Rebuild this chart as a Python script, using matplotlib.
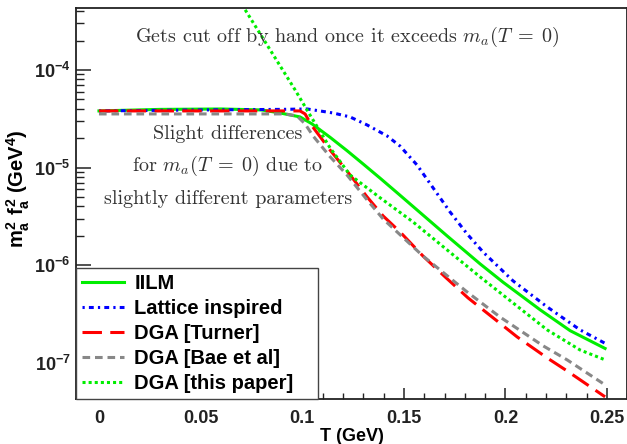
"""m_a^2 f_a^2 vs temperature for several axion mass models."""
import math

import matplotlib
matplotlib.use("Agg")
import matplotlib.pyplot as plt
from matplotlib.ticker import FixedLocator, MultipleLocator, FuncFormatter, NullFormatter, LogLocator

plt.rcParams["font.family"] = ["Liberation Sans", "DejaVu Sans"]
plt.rcParams["mathtext.fontset"] = "custom"
plt.rcParams["mathtext.rm"] = "Liberation Sans:bold"
plt.rcParams["mathtext.it"] = "Liberation Sans:bold"
plt.rcParams["mathtext.bf"] = "Liberation Sans:bold"
plt.rcParams["lines.scale_dashes"] = False

# IILM
T_iilm = [0.0, 0.03, 0.06, 0.08, 0.0891, 0.0989, 0.1048, 0.1137, 0.122, 0.1299,
          0.1383, 0.1471, 0.1545, 0.1713, 0.1875, 0.1988, 0.217, 0.2318, 0.249]
y_iilm = [3.80e-5, 3.94e-5, 3.98e-5, 3.89e-5, 3.62e-5, 3.30e-5, 2.80e-5, 2.04e-5,
          1.49e-5, 1.09e-5, 7.78e-6, 5.42e-6, 3.99e-6, 1.99e-6, 1.03e-6, 6.68e-7,
          3.49e-7, 2.13e-7, 1.40e-7]

# Lattice inspired
T_lat = [0.0, 0.0497, 0.0891, 0.1024, 0.1152, 0.1235, 0.1319, 0.1417, 0.1481, 0.1565,
         0.1644, 0.1727, 0.1811, 0.189, 0.2037, 0.2205, 0.2367, 0.249]
y_lat = [3.80e-5, 3.89e-5, 3.94e-5, 3.98e-5, 3.62e-5, 3.30e-5, 2.73e-5, 2.11e-5,
         1.66e-5, 1.06e-5, 6.18e-6, 3.51e-6, 2.09e-6, 1.36e-6, 6.9e-7, 3.73e-7,
         2.17e-7, 1.58e-7]

# DGA [Turner]
T_turner = [0.0, 0.0989, 0.1014, 0.1048, 0.1137, 0.122, 0.1319, 0.1398, 0.1481, 0.1594,
            0.1703, 0.1816, 0.2057, 0.2205, 0.2303, 0.249]
y_turner = [3.80e-5, 3.80e-5, 3.54e-5, 2.67e-5, 1.51e-5, 9.22e-6, 5.00e-6, 3.19e-6,
            2.19e-6, 1.24e-6, 7.57e-7, 4.61e-7, 1.84e-7, 1.12e-7, 8.24e-8, 4.47e-8]

# DGA [Bae et al]
T_bae = [0.0, 0.0915, 0.0974, 0.1014, 0.1053, 0.1137, 0.122, 0.1319, 0.1398, 0.1594,
         0.1811, 0.1973, 0.2185, 0.2303, 0.249]
y_bae = [3.54e-5, 3.54e-5, 3.38e-5, 2.80e-5, 2.11e-5, 1.29e-5, 8.4e-6, 4.66e-6,
         2.97e-6, 1.24e-6, 5.31e-7, 2.94e-7, 1.49e-7, 1.07e-7, 5.93e-8]

# DGA [this paper]
T_this = [0.065, 0.0714, 0.0965, 0.1038, 0.1137, 0.1235, 0.1383, 0.1545, 0.1713,
          0.1875, 0.2037, 0.2205, 0.2367, 0.249]
y_this = [8.0e-4, 4.3e-4, 6.24e-5, 3.46e-5, 1.59e-5, 8.4e-6, 4.9e-6, 2.77e-6,
          1.43e-6, 7.57e-7, 4.10e-7, 2.17e-7, 1.35e-7, 1.07e-7]

x_ticks = [0.0, 0.05, 0.1, 0.15, 0.2, 0.25]
x_ticklabels = ["0", "0.05", "0.1", "0.15", "0.2", "0.25"]

fig = plt.figure(figsize=(6.27, 4.44), dpi=100)
ax = fig.add_axes([0.1212, 0.1014, 0.8795, 0.8806])

lw = 2.2
ax.plot(T_iilm, y_iilm, color="#00ee00", lw=lw, label="IILM")
ax.plot(T_lat, y_lat, color="#0000ff", lw=lw, dashes=(1.6, 3.0, 3.5, 3.0),
        label="Lattice inspired")
ax.plot(T_turner, y_turner, color="#ff0000", lw=lw, dashes=(14, 6),
        label="DGA [Turner]")
ax.plot(T_bae, y_bae, color="#888888", lw=lw, dashes=(5.5, 3.5),
        label="DGA [Bae et al]")
ax.plot(T_this, y_this, color="#00ee00", lw=lw, dashes=(2.2, 2.2),
        label="DGA [this paper]")

ax.set_yscale("log")
ax.set_xlim(-0.0113, 0.26)
ax.set_ylim(4.25e-8, 4.31e-4)

ax.xaxis.set_major_locator(FixedLocator(x_ticks))
ax.set_xticklabels(x_ticklabels)
ax.xaxis.set_minor_locator(MultipleLocator(0.01))
ax.yaxis.set_major_locator(LogLocator(base=10, numticks=10))
ax.yaxis.set_minor_locator(LogLocator(base=10, subs=range(2, 10), numticks=20))
ax.yaxis.set_major_formatter(FuncFormatter(lambda v, p: r"$10^{%d}$" % round(math.log10(v))))
ax.yaxis.set_minor_formatter(NullFormatter())

ax.tick_params(which="both", direction="in", top=False, right=False, colors="#222222")
ax.tick_params(axis="x", which="major", length=8, width=1.1, labelsize=13, pad=8)
ax.tick_params(axis="x", which="minor", length=4, width=1.0)
ax.tick_params(axis="y", which="major", length=11, width=1.1, labelsize=13, pad=4)
ax.tick_params(axis="y", which="minor", length=6, width=1.0)
for lab in ax.get_xticklabels() + ax.get_yticklabels():
    lab.set_fontweight("bold")
for sp in ax.spines.values():
    sp.set_linewidth(1.3)
    sp.set_color("#222222")

ax.set_xlabel("T (GeV)", fontsize=13, fontweight="bold", labelpad=1)
ax.set_ylabel(r"$m_a^2\ f_a^2$ (GeV$^4$)", fontsize=14.5, fontweight="bold")
ax.yaxis.set_label_coords(-0.079, 0.537)

txt = dict(fontsize=14.5, color="#333333", family="cmr10", math_fontfamily="cm", ha="center",
           va="center", transform=ax.transAxes)
ax.text(0.4916, 0.926, r"Gets cut off by hand once it exceeds $m_a(T\;=\;0)$", **txt)
ax.text(0.2757, 0.678, "Slight differences", **txt)
ax.text(0.2757, 0.596, r"for $m_a(T\;=\;0)$ due to", **txt)
ax.text(0.2757, 0.5115, "slightly different parameters", **txt)

leg = ax.legend(loc="lower left", bbox_to_anchor=(0, 0, 0.439, 0.33), mode="expand",
                borderaxespad=0,
                prop={"family": "Liberation Sans", "weight": "bold", "size": 14.5},
                handlelength=2.1, handletextpad=0.5, labelspacing=0.3,
                borderpad=0.3, fancybox=False, framealpha=1, edgecolor="#444444")
leg.get_frame().set_linewidth(1.0)

fig.savefig("out.png", dpi=100)
